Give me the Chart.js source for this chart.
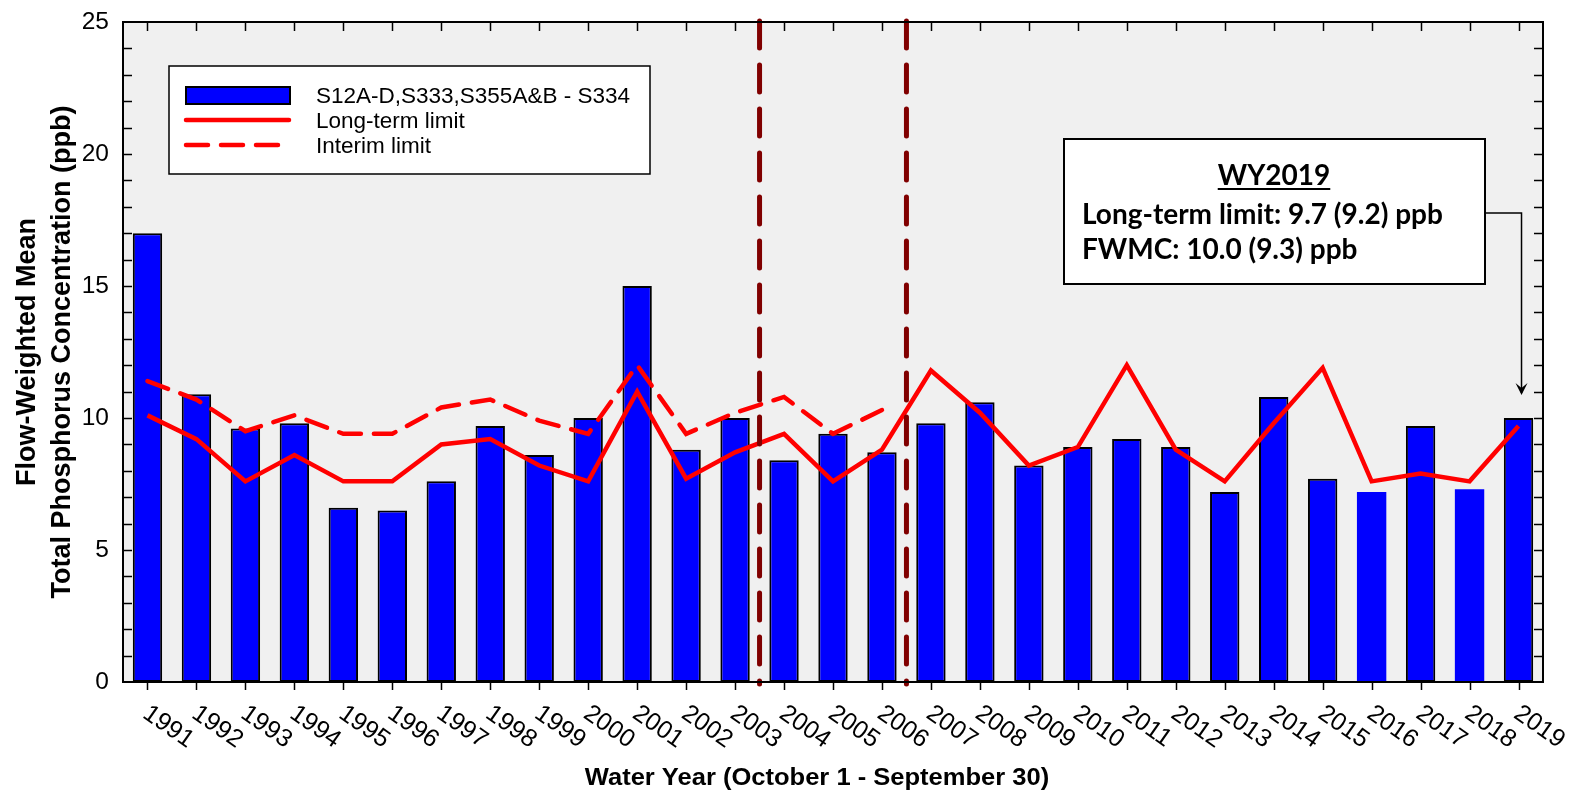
<!DOCTYPE html>
<html>
<head>
<meta charset="utf-8">
<title>S12A-D,S333,S355A&amp;B - S334 TP FWMC</title>
<script src="https://cdn.jsdelivr.net/npm/chart.js@4.4.1/dist/chart.umd.min.js"></script>
<style>
html,body{margin:0;padding:0;background:#fff;}
canvas{display:block;}
</style>
</head>
<body>
<canvas id="tpChart" width="1574" height="794"></canvas>
<script>
// water years on the x axis
const years = ['1991','1992','1993','1994','1995','1996','1997','1998','1999','2000',
  '2001','2002','2003','2004','2005','2006','2007','2008','2009','2010',
  '2011','2012','2013','2014','2015','2016','2017','2018','2019'];

// flow-weighted mean TP (ppb) for S12A-D,S333,S355A&B - S334
const fwmc = [17.0,10.9,9.6,9.8,6.6,6.5,7.6,9.7,8.6,10.0,
  15.0,8.8,10.0,8.4,9.4,8.7,9.8,10.6,8.2,8.9,
  9.2,8.9,7.2,10.8,7.7,7.2,9.7,7.3,10.0];

// long-term limit (ppb)
const longTermLimit = [10.1,9.2,7.6,8.6,7.6,7.6,9.0,9.2,8.2,7.6,
  11.0,7.7,8.7,9.4,7.6,8.8,11.8,10.2,8.2,8.9,
  12.0,8.8,7.6,9.8,11.9,7.6,7.9,7.6,9.7];

// interim limit (ppb), only applies through WY2006
const interimLimit = [11.4,10.7,9.5,10.1,9.4,9.4,10.4,10.7,9.9,9.4,
  12.0,9.4,10.2,10.8,9.4,10.3,null,null,null,null,
  null,null,null,null,null,null,null,null,null];

// bars drawn without an outline
const noOutline = ['2016','2018'];

// vertical markers sit between these years and the next one
const breakAfter = ['2003','2006'];

const yMin = 0, yMax = 25, yLabelStep = 5;

const legendItems = ['S12A-D,S333,S355A&B - S334', 'Long-term limit', 'Interim limit'];
const noteTitle = 'WY2019';
const noteLines = ['Long-term limit: 9.7 (9.2) ppb', 'FWMC: 10.0 (9.3) ppb'];
const xTitle = 'Water Year (October 1 - September 30)';

const SANS = '"Liberation Sans", Arial, sans-serif';

function wideText(ctx, text, x, y, sx){
  ctx.save();
  ctx.translate(x, y);
  ctx.scale(sx, 1);
  ctx.fillText(text, 0, 0);
  ctx.restore();
}

const decorations = {
  id: 'decorations',
  beforeDraw(chart){
    const {ctx, chartArea:a} = chart;
    ctx.save();
    ctx.fillStyle = '#f0f0f0';
    ctx.fillRect(a.left, a.top, a.right - a.left, a.bottom - a.top);
    ctx.restore();
  },
  afterDatasetsDraw(chart){
    const {ctx, chartArea:a, scales:{x, y}} = chart;

    // period breaks
    ctx.save();
    ctx.strokeStyle = '#800000';
    ctx.lineWidth = 5;
    ctx.lineCap = 'round';
    ctx.setLineDash([27, 17]);
    breakAfter.forEach(yr => {
      const i = years.indexOf(yr);
      const px = (x.getPixelForValue(i) + x.getPixelForValue(i + 1)) / 2;
      ctx.beginPath();
      ctx.moveTo(px, a.top - 1);
      ctx.lineTo(px, a.bottom + 2);
      ctx.stroke();
    });
    ctx.restore();
  },
  afterDraw(chart){
    const {ctx, chartArea:a, scales:{x, y}} = chart;
    ctx.save();

    // frame and tick marks
    ctx.strokeStyle = '#000';
    ctx.lineWidth = 2;
    ctx.strokeRect(a.left, a.top, a.right - a.left, a.bottom - a.top);
    ctx.lineWidth = 1.5;
    ctx.beginPath();
    for (let v = yMin + 1; v < yMax; v++) {
      const py = Math.round(y.getPixelForValue(v)) + 0.5;
      ctx.moveTo(a.left, py); ctx.lineTo(a.left + 9, py);
      ctx.moveTo(a.right, py); ctx.lineTo(a.right - 9, py);
    }
    years.forEach((yr, i) => {
      const px = Math.round(x.getPixelForValue(i)) + 0.5;
      ctx.moveTo(px, a.top); ctx.lineTo(px, a.top + 9);
      ctx.moveTo(px, a.bottom); ctx.lineTo(px, a.bottom + 8);
    });
    ctx.stroke();

    // slanted year labels
    ctx.fillStyle = '#000';
    ctx.font = '25px ' + SANS;
    ctx.textAlign = 'left';
    ctx.textBaseline = 'middle';
    years.forEach((yr, i) => {
      ctx.save();
      ctx.translate(x.getPixelForValue(i) - 2, a.bottom + 29);
      ctx.rotate(35 * Math.PI / 180);
      ctx.fillText(yr, 0, 0);
      ctx.restore();
    });

    // x axis title
    ctx.font = 'bold 23px ' + SANS;
    ctx.textBaseline = 'alphabetic';
    ctx.textAlign = 'left';
    const tw = ctx.measureText(xTitle).width * 1.11;
    wideText(ctx, xTitle, 817 - tw / 2, 785, 1.11);

    // legend
    const lx = 169, ly = 66, lw = 481, lh = 108;
    ctx.fillStyle = '#fff';
    ctx.fillRect(lx, ly, lw, lh);
    ctx.lineWidth = 1.5;
    ctx.strokeStyle = '#000';
    ctx.strokeRect(lx, ly, lw, lh);

    ctx.fillStyle = '#0000ff';
    ctx.fillRect(186, 87, 104, 17);
    ctx.lineWidth = 2;
    ctx.strokeRect(186, 87, 104, 17);

    ctx.strokeStyle = '#ff0000';
    ctx.lineWidth = 4.5;
    ctx.lineCap = 'round';
    ctx.beginPath();
    ctx.moveTo(186, 120); ctx.lineTo(289, 120);
    ctx.stroke();
    ctx.setLineDash([22, 13]);
    ctx.beginPath();
    ctx.moveTo(186, 145); ctx.lineTo(290, 145);
    ctx.stroke();
    ctx.setLineDash([]);

    ctx.fillStyle = '#000';
    ctx.font = '22.5px ' + SANS;
    ctx.textAlign = 'left';
    ctx.textBaseline = 'alphabetic';
    ctx.fillText(legendItems[0], 316, 103);
    ctx.fillText(legendItems[1], 316, 128);
    ctx.fillText(legendItems[2], 316, 153);

    // WY2019 note box with pointer to the last bar
    const bx = 1064, by = 139, bw = 421, bh = 145;
    ctx.fillStyle = '#fff';
    ctx.fillRect(bx, by, bw, bh);
    ctx.strokeStyle = '#000';
    ctx.lineWidth = 2;
    ctx.lineCap = 'butt';
    ctx.strokeRect(bx, by, bw, bh);

    ctx.fillStyle = '#000';
    ctx.font = 'bold 28px Lato, sans-serif';
    ctx.textAlign = 'center';
    ctx.fillText(noteTitle, 1274, 185);
    const nw = ctx.measureText(noteTitle).width;
    ctx.lineWidth = 2;
    ctx.beginPath();
    ctx.moveTo(1274 - nw / 2, 189); ctx.lineTo(1274 + nw / 2, 189);
    ctx.stroke();
    ctx.textAlign = 'left';
    ctx.fillText(noteLines[0], 1082, 224);
    ctx.fillText(noteLines[1], 1082, 259);

    const last = years.length - 1;
    const ax = x.getPixelForValue(last) + 3;
    const tipY = y.getPixelForValue(fwmc[last]) - 23;
    ctx.lineWidth = 1.5;
    ctx.beginPath();
    ctx.moveTo(bx + bw, 213);
    ctx.lineTo(ax, 213);
    ctx.lineTo(ax, tipY - 2);
    ctx.stroke();
    ctx.beginPath();
    ctx.moveTo(ax, tipY);
    ctx.lineTo(ax - 6, tipY - 12);
    ctx.lineTo(ax, tipY - 7);
    ctx.lineTo(ax + 6, tipY - 12);
    ctx.closePath();
    ctx.fill();

    ctx.restore();
  }
};

new Chart(document.getElementById('tpChart'), {
  type: 'bar',
  data: {
    labels: years,
    datasets: [
      {
        label: legendItems[0],
        data: fwmc,
        backgroundColor: '#0000ff',
        borderColor: '#000',
        borderWidth: years.map(yr => noOutline.includes(yr) ? 0 : 2),
        borderSkipped: false,
        categoryPercentage: 1,
        barPercentage: 0.6,
        order: 3
      },
      {
        type: 'line',
        label: legendItems[1],
        data: longTermLimit,
        borderColor: '#ff0000',
        borderWidth: 4.5,
        pointRadius: 0,
        tension: 0,
        fill: false,
        order: 2
      },
      {
        type: 'line',
        label: legendItems[2],
        data: interimLimit,
        borderColor: '#ff0000',
        borderWidth: 4.5,
        borderDash: [22, 13],
        borderCapStyle: 'round',
        pointRadius: 0,
        tension: 0,
        spanGaps: false,
        fill: false,
        order: 1
      }
    ]
  },
  options: {
    responsive: false,
    animation: false,
    layout: { padding: { top: 22, right: 31, left: 0, bottom: 0 } },
    plugins: {
      legend: { display: false },
      tooltip: { enabled: false }
    },
    scales: {
      x: {
        type: 'category',
        offset: true,
        grid: { display: false },
        border: { display: false },
        ticks: { display: false },
        afterFit(scale){
          scale.height = 112;
          scale.paddingLeft = 0;
          scale.paddingRight = 0;
        }
      },
      y: {
        min: yMin,
        max: yMax,
        grid: { display: false },
        border: { display: false },
        ticks: {
          stepSize: 1,
          autoSkip: false,
          padding: 6,
          color: '#000',
          font: { family: SANS, size: 24.5 },
          callback: v => (v % yLabelStep === 0 ? v : '')
        },
        title: {
          display: true,
          text: ['Flow-Weighted Mean', 'Total Phosphorus Concentration (ppb)'],
          color: '#000',
          font: { family: SANS, size: 27, weight: 'bold', lineHeight: 1.3 },
          padding: { top: 10, bottom: 0 }
        },
        afterFit(scale){
          scale.width = 123;
          scale.paddingTop = 0;
          scale.paddingBottom = 0;
        }
      }
    }
  },
  plugins: [decorations]
});
</script>
</body>
</html>
